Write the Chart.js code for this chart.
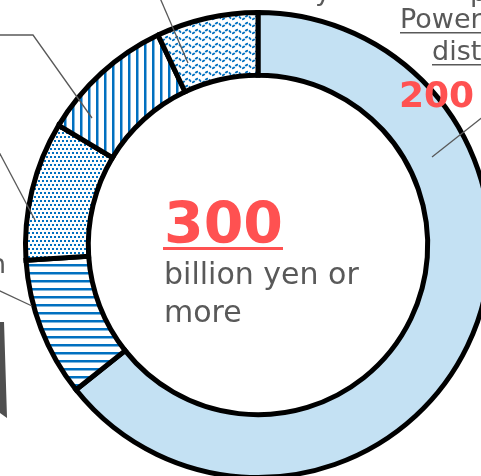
<!DOCTYPE html>
<html>
<head>
<meta charset="utf-8">
<script src="https://cdn.jsdelivr.net/npm/chart.js@4"></script>
<style>
  html, body { margin: 0; padding: 0; overflow: hidden; background: #fff; width: 481px; height: 476px; }
  #chart { position: absolute; left: 0; top: 0; }
</style>
</head>
<body>
<canvas id="chart" width="520" height="500" style="width:520px;height:500px"></canvas>
<script>
// ----- Data (billion yen) -----
const categories = ["Power distribution", "Segment 2", "Segment 3", "Segment 4", "Segment 5"];
const values = [200, 30, 30, 29, 22];
const totalLabel = "300";
const mainLabel = "200";

const BLUE = "#0070C0";
const GRAY = "#595959";
const RED = "#FF5151";
const FONT = "'DejaVu Sans', Verdana, sans-serif";

// ----- Fill patterns -----
function makePattern(w, h, draw) {
  const c = document.createElement("canvas");
  c.width = w; c.height = h;
  const g = c.getContext("2d");
  g.fillStyle = "#fff";
  g.fillRect(0, 0, w, h);
  g.fillStyle = BLUE;
  g.strokeStyle = BLUE;
  draw(g);
  return g.createPattern(c, "repeat");
}

const ctx = document.getElementById("chart").getContext("2d");

const hStripes = makePattern(8, 8, g => g.fillRect(0, 0, 8, 2.5));
const dots = makePattern(4, 8, g => {
  g.fillRect(0, 0, 2, 2);
  g.fillRect(2, 4, 2, 2);
});
const vStripes = makePattern(8, 8, g => g.fillRect(0, 0, 2.5, 8));
const waves = makePattern(10, 7, g => {
  g.lineWidth = 1.8;
  g.setLineDash([3, 1.2]);
  g.beginPath();
  for (let x = -1; x <= 11; x += 0.5) {
    const y = 3.5 + 1.8 * Math.sin((x / 10) * Math.PI * 2);
    if (x === -1) g.moveTo(x, y); else g.lineTo(x, y);
  }
  g.stroke();
});

const fills = ["#C4E1F3", hStripes, dots, vStripes, waves];

// ----- Annotations drawn on top -----
const overlay = {
  id: "overlay",
  afterDraw(chart) {
    const c = chart.ctx;
    c.save();

    // leader lines
    c.strokeStyle = GRAY;
    c.lineWidth = 1.3;
    const leaders = [
      [[432, 157], [484, 116]],
      [[160, -2], [188, 63]],
      [[-2, 35], [33, 35], [92, 118]],
      [[-2, 150], [35, 220]],
      [[-2, 290], [32, 306]]
    ];
    leaders.forEach(pts => {
      c.beginPath();
      pts.forEach((p, i) => i ? c.lineTo(p[0], p[1]) : c.moveTo(p[0], p[1]));
      c.stroke();
    });

    // centre label
    c.textBaseline = "alphabetic";
    c.textAlign = "left";
    c.fillStyle = RED;
    c.font = "bold 57px " + FONT;
    c.fillText(totalLabel, 164, 243);
    c.fillRect(163, 247, 120, 3);

    c.fillStyle = GRAY;
    c.font = "30px " + FONT;
    c.fillText("billion yen or", 164, 284);
    c.fillText("more", 164, 322);

    // right label (cropped)
    c.font = "27px " + FONT;
    c.fillText("Power", 400, 28);
    c.fillText("dist", 432, 60);
    c.fillRect(400, 32, 90, 1.5);
    c.fillRect(432, 64, 60, 1.5);
    c.fillStyle = RED;
    c.font = "bold 36px " + FONT;
    c.fillText(mainLabel, 399, 107);

    // fragments of text above and left of the crop
    c.fillStyle = GRAY;
    c.font = "27px " + FONT;
    c.fillText("y", 315, 0);
    c.fillText("p", 470, 1);
    c.textAlign = "right";
    c.fillText("tion", 6, 273);

    // dark shape at left edge
    c.fillStyle = "#4f4f4f";
    c.beginPath();
    c.moveTo(0, 322);
    c.lineTo(4, 322);
    c.lineTo(7, 418);
    c.lineTo(0, 413);
    c.closePath();
    c.fill();

    c.restore();
  }
};

new Chart(ctx, {
  type: "doughnut",
  data: {
    labels: categories,
    datasets: [{
      data: values,
      backgroundColor: fills,
      borderColor: "#000",
      borderWidth: 5,
      borderJoinStyle: "miter"
    }]
  },
  options: {
    responsive: false,
    animation: false,
    cutout: "73%",
    layout: { padding: { left: 23, top: 10, right: 27, bottom: 20 } },
    plugins: {
      legend: { display: false },
      tooltip: { enabled: false }
    }
  },
  plugins: [overlay]
});
</script>
</body>
</html>
